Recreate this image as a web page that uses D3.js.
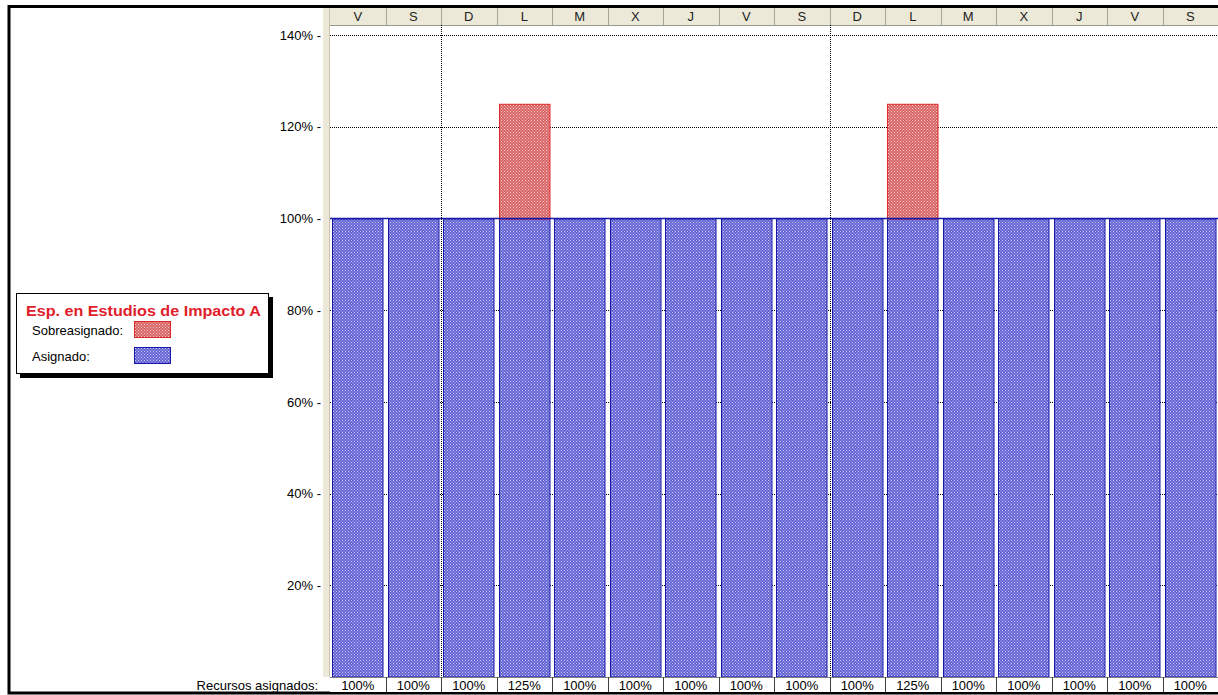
<!DOCTYPE html>
<html>
<head>
<meta charset="utf-8">
<script src="https://cdn.jsdelivr.net/npm/d3@7"></script>
<style>
  html, body { margin: 0; padding: 0; background: #fff; }
  svg { display: block; font-family: "Liberation Sans", Arial, sans-serif; }
</style>
</head>
<body>
<svg id="chart" width="1218" height="695"></svg>
<script>
// Days shown in the timescale header
const days = ["V","S","D","L","M","X","J","V","S","D","L","M","X","J","V","S"];
// Allocated work per day (%)
const asignado = [100,100,100,100,100,100,100,100,100,100,100,100,100,100,100,100];
// Over-allocation above 100% per day (%)
const sobreasignado = [0,0,0,25,0,0,0,0,0,0,25,0,0,0,0,0];
// Y axis ticks (%)
const yTicks = [20,40,60,80,100,120,140];
// Column indexes where a new week starts (dotted separators)
const weekStarts = [2, 9];

const recurso = "Esp. en Estudios de Impacto A";

const svg = d3.select("#chart");
const defs = svg.append("defs");

function dotPattern(id, base, dot) {
  const p = defs.append("pattern").attr("id", id)
    .attr("patternUnits", "userSpaceOnUse").attr("width", 3).attr("height", 3);
  p.append("rect").attr("width", 3).attr("height", 3).attr("fill", base);
  p.append("rect").attr("x", 0).attr("y", 0).attr("width", 1).attr("height", 1).attr("fill", dot);
  p.append("rect").attr("x", 1.5).attr("y", 1.5).attr("width", 1).attr("height", 1).attr("fill", dot);
}
dotPattern("blueFill", "#6262d4", "#d0d0f8");
dotPattern("redFill", "#d86464", "#f6cccc");

const plotLeft = 330, plotRight = 1218, plotTop = 25, plotBottom = 677;
const fontSize = 13;

const x = d3.scaleBand().domain(d3.range(days.length)).range([plotLeft, plotRight]);
const y = d3.scaleLinear().domain([0, 140]).range([plotBottom, 35]);
const bw = x.bandwidth();

// Outer frame
svg.append("rect").attr("x", 9).attr("y", 6.5).attr("width", 1230).attr("height", 686.5)
  .attr("fill", "#fff").attr("stroke", "#000").attr("stroke-width", 3);

// Left strip of the plot area
svg.append("rect").attr("x", 323).attr("y", 8).attr("width", plotLeft - 323).attr("height", plotBottom - 8)
  .attr("fill", "#ece9d8");
svg.append("line").attr("x1", plotLeft - 0.5).attr("x2", plotLeft - 0.5).attr("y1", 8).attr("y2", plotBottom)
  .attr("stroke", "#c8c4b0");

// Timescale header
const header = svg.append("g");
header.append("rect").attr("x", plotLeft).attr("y", 8).attr("width", plotRight - plotLeft).attr("height", plotTop - 8)
  .attr("fill", "#ece9d8");
header.append("line").attr("x1", plotLeft).attr("x2", plotRight).attr("y1", plotTop + 0.5).attr("y2", plotTop + 0.5)
  .attr("stroke", "#9a988c");
header.selectAll("line.sep").data(days).join("line").attr("class", "sep")
  .attr("x1", (d, i) => Math.round(x(i)) + 0.5).attr("x2", (d, i) => Math.round(x(i)) + 0.5)
  .attr("y1", 8).attr("y2", plotTop)
  .attr("stroke", (d, i) => i === 0 ? "none" : "#a8a69a");
header.selectAll("text").data(days).join("text")
  .attr("x", (d, i) => x(i) + bw / 2).attr("y", 21)
  .attr("text-anchor", "middle").attr("font-size", fontSize).attr("fill", "#222")
  .text(d => d);

// Horizontal dotted gridlines
svg.append("g").selectAll("line").data(yTicks).join("line")
  .attr("x1", plotLeft).attr("x2", plotRight)
  .attr("y1", d => Math.round(y(d)) + 0.5).attr("y2", d => Math.round(y(d)) + 0.5)
  .attr("stroke", "#000").attr("stroke-width", 1).attr("stroke-dasharray", "1,1");

// Week separators
svg.append("g").selectAll("line").data(weekStarts).join("line")
  .attr("x1", d => Math.round(x(d)) + 0.5).attr("x2", d => Math.round(x(d)) + 0.5)
  .attr("y1", plotTop).attr("y2", plotBottom)
  .attr("stroke", "#000").attr("stroke-dasharray", "1,1");

// Allocated bars
svg.append("g").selectAll("rect").data(asignado).join("rect")
  .attr("x", (d, i) => Math.round(x(i)) + 2.5)
  .attr("y", d => y(d) + 0.5)
  .attr("width", bw - 5)
  .attr("height", d => y(0) - y(d) - 0.5)
  .attr("fill", "url(#blueFill)").attr("stroke", "#1818a8").attr("stroke-width", 1);

// Over-allocated portion stacked above
svg.append("g").selectAll("rect").data(sobreasignado.map((v, i) => ({v, i})).filter(d => d.v > 0)).join("rect")
  .attr("x", d => Math.round(x(d.i)) + 2.5)
  .attr("y", d => y(asignado[d.i] + d.v) + 0.5)
  .attr("width", bw - 5)
  .attr("height", d => y(asignado[d.i]) - y(asignado[d.i] + d.v))
  .attr("fill", "url(#redFill)").attr("stroke", "#e02828").attr("stroke-width", 1);

// 100% line across the tops of the blue bars
svg.append("line").attr("x1", plotLeft).attr("x2", plotRight)
  .attr("y1", Math.round(y(100)) + 0.5).attr("y2", Math.round(y(100)) + 0.5)
  .attr("stroke", "#1818a8").attr("stroke-width", 1.5);

// Y axis labels
const yAxis = d3.axisLeft(y).tickValues(yTicks).tickSize(0).tickPadding(0)
  .tickFormat(d => d + "% -");
const gy = svg.append("g").attr("transform", "translate(321,0)").call(yAxis);
gy.select(".domain").remove();
gy.selectAll("text").attr("font-size", fontSize).attr("fill", "#000")
  .attr("font-family", "'Liberation Sans', Arial, sans-serif");

// Bottom row: total assigned per day
const totals = asignado.map((a, i) => a + sobreasignado[i]);
const row = svg.append("g");
row.append("rect").attr("x", plotLeft).attr("y", plotBottom).attr("width", plotRight - plotLeft).attr("height", 15)
  .attr("fill", "#fff");
row.append("line").attr("x1", plotLeft).attr("x2", plotRight).attr("y1", plotBottom + 0.5).attr("y2", plotBottom + 0.5)
  .attr("stroke", "#808080");
row.selectAll("line.sep").data(totals).join("line").attr("class", "sep")
  .attr("x1", (d, i) => Math.round(x(i)) + 0.5).attr("x2", (d, i) => Math.round(x(i)) + 0.5)
  .attr("y1", plotBottom).attr("y2", plotBottom + 15)
  .attr("stroke", (d, i) => i === 0 ? "none" : "#404040");
row.selectAll("text").data(totals).join("text")
  .attr("x", (d, i) => x(i) + bw / 2).attr("y", plotBottom + 13)
  .attr("text-anchor", "middle").attr("font-size", fontSize).attr("fill", "#000")
  .text(d => d + "%");
row.append("text").attr("x", 318).attr("y", plotBottom + 13).attr("text-anchor", "end")
  .attr("font-size", fontSize).attr("fill", "#000").text("Recursos asignados:");

// Legend
const lg = svg.append("g");
lg.append("rect").attr("x", 20).attr("y", 297).attr("width", 253).attr("height", 81).attr("fill", "#000");
lg.append("rect").attr("x", 16.5).attr("y", 293.5).attr("width", 252).attr("height", 80)
  .attr("fill", "#fff").attr("stroke", "#000");
lg.append("text").attr("x", 26).attr("y", 316).attr("font-size", 15).attr("font-weight", "bold")
  .attr("fill", "#e0202a").attr("textLength", 235).attr("lengthAdjust", "spacingAndGlyphs")
  .text(recurso);
lg.append("text").attr("x", 32).attr("y", 335).attr("font-size", fontSize).attr("fill", "#000").text("Sobreasignado:");
lg.append("rect").attr("x", 134.5).attr("y", 321.5).attr("width", 36).attr("height", 16)
  .attr("fill", "url(#redFill)").attr("stroke", "#e02828");
lg.append("text").attr("x", 32).attr("y", 361).attr("font-size", fontSize).attr("fill", "#000").text("Asignado:");
lg.append("rect").attr("x", 134.5).attr("y", 347.5).attr("width", 36).attr("height", 16)
  .attr("fill", "url(#blueFill)").attr("stroke", "#1818a8");
</script>
</body>
</html>
